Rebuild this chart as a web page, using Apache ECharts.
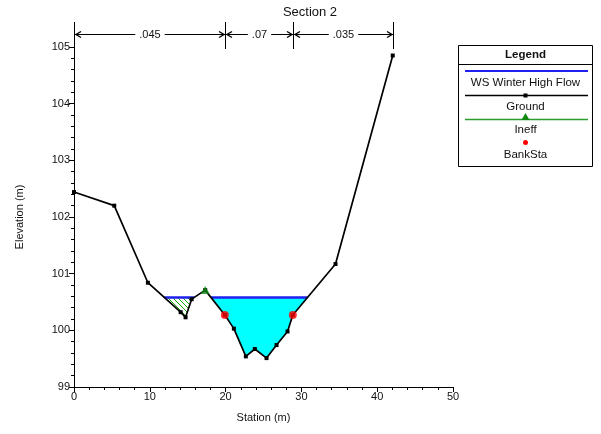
<!DOCTYPE html>
<html><head><meta charset="utf-8">
<script src="https://cdn.jsdelivr.net/npm/echarts@6/dist/echarts.min.js"></script>
<style>html,body{margin:0;padding:0;background:#fff}#c{width:601px;height:434px}</style>
</head><body><div id="c"></div>
<script>
// ---- data ----
const chartTitle = 'Section 2';
const groundX = [0, 5.31, 9.75, 14.07, 14.72, 15.52, 17.31, 19.9, 21.09, 22.67, 23.86, 25.4, 26.72, 28.17, 28.87, 34.5, 42.05];
const groundY = [102.44, 102.2, 100.84, 100.32, 100.23, 100.55, 100.71, 100.27, 100.03, 99.54, 99.67, 99.51, 99.74, 99.98, 100.27, 101.17, 104.85];
const wsElev = 100.58;
const ineffX = [17.31];
const ineffY = [100.71];
const bankX = [19.9, 28.87];
const bankY = [100.27, 100.27];
const nValues = ['.045', '.07', '.035'];
const nBreaks = [0, 19.9, 28.87, 42.05];
const legendItems = ['WS Winter High Flow', 'Ground', 'Ineff', 'BankSta'];

const FONT = 'Liberation Sans, Arial, sans-serif';
const C_WS = '#2020f0', C_GROUND = '#000', C_INEFF = '#2e9b2e', C_HATCH = '#10b010', C_INEFF_MK = '#118811', C_BANK = '#ff0000', C_FILL = '#00ffff';

// wetted polygons between ground and water surface
function wetPolys(){
  const polys = []; let cur = null;
  for (let i = 0; i < groundX.length; i++) {
    const below = groundY[i] < wsElev;
    if (i > 0) {
      const prevBelow = groundY[i-1] < wsElev;
      if (below !== prevBelow) {
        const t = (wsElev - groundY[i-1]) / (groundY[i] - groundY[i-1]);
        const xc = groundX[i-1] + t * (groundX[i] - groundX[i-1]);
        if (below) { cur = [[xc, wsElev]]; }
        else { cur.push([xc, wsElev]); polys.push(cur); cur = null; }
      }
    }
    if (below && cur) cur.push([groundX[i], groundY[i]]);
  }
  return polys;
}
const polys = wetPolys();
const ineffPolys = polys.filter(p => p[p.length-1][0] <= ineffX[0]);
const effPolys = polys.filter(p => p[0][0] >= ineffX[0]);

// hatch pattern
const T = 5;
const hc = document.createElement('canvas'); hc.width = hc.height = T;
const g = hc.getContext('2d'); g.strokeStyle = C_HATCH; g.lineWidth = 1;
[[-1, -1, T + 1, T + 1], [T - 1, -1, T + 1, 1], [-1, T - 1, 1, T + 1]].forEach(s => {
  g.beginPath(); g.moveTo(s[0], s[1]); g.lineTo(s[2], s[3]); g.stroke();
});

function polySeries(list, fill, z){
  return list.map(poly => ({
    type: 'custom', coordinateSystem: 'cartesian2d', data: [[poly[0][0], poly[0][1]]], z: z, silent: true,
    renderItem: (params, api) => ({
      type: 'polygon',
      shape: { points: poly.map(p => api.coord(p)) },
      style: { fill: fill, stroke: null }
    })
  }));
}

const wsData = [];
polys.forEach((p, i) => {
  if (i > 0) wsData.push([null, null]);
  wsData.push([p[0][0], wsElev]); wsData.push([p[p.length-1][0], wsElev]);
});

const axisCommon = {
  axisLine: { lineStyle: { color: '#000', width: 1 } },
  axisTick: { length: 5, lineStyle: { color: '#000' } },
  minorTick: { show: true, splitNumber: 5, length: 3, lineStyle: { color: '#000' } },
  splitLine: { show: false },
  axisLabel: { color: '#111', fontFamily: FONT, fontSize: 11, margin: 4 },
  nameTextStyle: { color: '#111', fontFamily: FONT, fontSize: 11 },
  nameLocation: 'middle'
};

const chart = echarts.init(document.getElementById('c'), null, { renderer: 'canvas' });
chart.setOption({
  animation: false,
  grid: { left: 74, right: 148, top: 47, bottom: 47 },
  xAxis: Object.assign({}, axisCommon, { type: 'value', min: 0, max: 50, interval: 10, name: 'Station (m)', nameGap: 25 }),
  yAxis: Object.assign({}, axisCommon, { type: 'value', min: 99, max: 105, interval: 1, name: 'Elevation (m)', nameGap: 49, nameRotate: 90 }),
  series: [].concat(
    polySeries(effPolys, C_FILL, 1),
    polySeries(ineffPolys, { image: hc, repeat: 'repeat' }, 1),
    [{
      type: 'line', data: wsData, connectNulls: false, symbol: 'none', z: 3,
      lineStyle: { color: C_WS, width: 2.5 }
    }, {
      type: 'line', data: groundX.map((x, i) => [x, groundY[i]]), z: 4,
      symbol: 'rect', symbolSize: 4, showAllSymbol: true,
      itemStyle: { color: C_GROUND }, lineStyle: { color: C_GROUND, width: 1.7 }
    }, {
      type: 'scatter', data: ineffX.map((x, i) => [x, ineffY[i]]), z: 5,
      symbol: 'triangle', symbolSize: [9, 8], itemStyle: { color: C_INEFF_MK }
    }, {
      type: 'scatter', data: bankX.map((x, i) => [x, bankY[i]]), z: 5,
      symbol: 'circle', symbolSize: 8, itemStyle: { color: C_BANK }
    }]
  )
});

// ---- graphics: title, n-value dimension lines, legend ----
const gfx = [];
gfx.push({ type: 'text', style: { text: chartTitle, x: 310, y: 12, textAlign: 'center', textVerticalAlign: 'middle', font: '13px ' + FONT, fill: '#111' } });
const yTop = chart.convertToPixel({ gridIndex: 0 }, [0, 105])[1];
const yDim = 34.5;
const px = nBreaks.map(x => chart.convertToPixel({ gridIndex: 0 }, [x, 105])[0]);
px.forEach((p, i) => {
  gfx.push({ type: 'line', shape: { x1: Math.round(p) + 0.5, y1: 22, x2: Math.round(p) + 0.5, y2: i === 0 ? yTop : yTop + 2 }, style: { stroke: '#000', lineWidth: 1 } });
});
nValues.forEach((v, i) => {
  const a = Math.round(px[i]) + 1, b = Math.round(px[i+1]);
  gfx.push({ type: 'line', shape: { x1: a, y1: yDim, x2: b, y2: yDim }, style: { stroke: '#000', lineWidth: 1 } });
  gfx.push({ type: 'polyline', shape: { points: [[a + 6, yDim - 3], [a + 1, yDim], [a + 6, yDim + 3]] }, style: { stroke: '#000', lineWidth: 1.4, fill: null } });
  gfx.push({ type: 'polyline', shape: { points: [[b - 6, yDim - 3], [b - 1, yDim], [b - 6, yDim + 3]] }, style: { stroke: '#000', lineWidth: 1.4, fill: null } });
  gfx.push({ type: 'text', z: 10, style: { text: v, x: (a + b) / 2, y: yDim, textAlign: 'center', textVerticalAlign: 'middle', font: '11px ' + FONT, fill: '#111', backgroundColor: '#fff', padding: [1, 4] } });
});

// legend
const L = { x: 458.5, y: 45.5, w: 134, h: 121 };
const cx = L.x + L.w / 2;
const LF = '11.5px ' + FONT;
gfx.push({ type: 'rect', shape: { x: L.x, y: L.y, width: L.w, height: L.h }, style: { fill: '#fff', stroke: '#000', lineWidth: 1 } });
gfx.push({ type: 'line', shape: { x1: L.x, y1: 64.5, x2: L.x + L.w, y2: 64.5 }, style: { stroke: '#000', lineWidth: 1 } });
gfx.push({ type: 'text', style: { text: 'Legend', x: cx, y: 55, textAlign: 'center', textVerticalAlign: 'middle', font: 'bold 11.5px ' + FONT, fill: '#111' } });
const lx1 = 465, lx2 = 588;
gfx.push({ type: 'line', shape: { x1: lx1, y1: 71, x2: lx2, y2: 71 }, style: { stroke: C_WS, lineWidth: 2 } });
gfx.push({ type: 'text', style: { text: legendItems[0], x: cx, y: 83, textAlign: 'center', textVerticalAlign: 'middle', font: LF, fill: '#111' } });
gfx.push({ type: 'line', shape: { x1: lx1, y1: 95.5, x2: lx2, y2: 95.5 }, style: { stroke: C_GROUND, lineWidth: 1.3 } });
gfx.push({ type: 'rect', shape: { x: cx - 2, y: 93.5, width: 4, height: 4 }, style: { fill: C_GROUND } });
gfx.push({ type: 'text', style: { text: legendItems[1], x: cx, y: 106.5, textAlign: 'center', textVerticalAlign: 'middle', font: LF, fill: '#111' } });
gfx.push({ type: 'line', shape: { x1: lx1, y1: 119.5, x2: lx2, y2: 119.5 }, style: { stroke: C_INEFF, lineWidth: 1.5 } });
gfx.push({ type: 'polygon', shape: { points: [[cx - 4, 120], [cx + 4, 120], [cx, 113]] }, style: { fill: C_INEFF_MK } });
gfx.push({ type: 'text', style: { text: legendItems[2], x: cx, y: 130, textAlign: 'center', textVerticalAlign: 'middle', font: LF, fill: '#111' } });
gfx.push({ type: 'circle', shape: { cx: cx, cy: 142.5, r: 2.5 }, style: { fill: C_BANK } });
gfx.push({ type: 'text', style: { text: legendItems[3], x: cx, y: 155, textAlign: 'center', textVerticalAlign: 'middle', font: LF, fill: '#111' } });

chart.setOption({ graphic: gfx });
</script>
</body></html>
